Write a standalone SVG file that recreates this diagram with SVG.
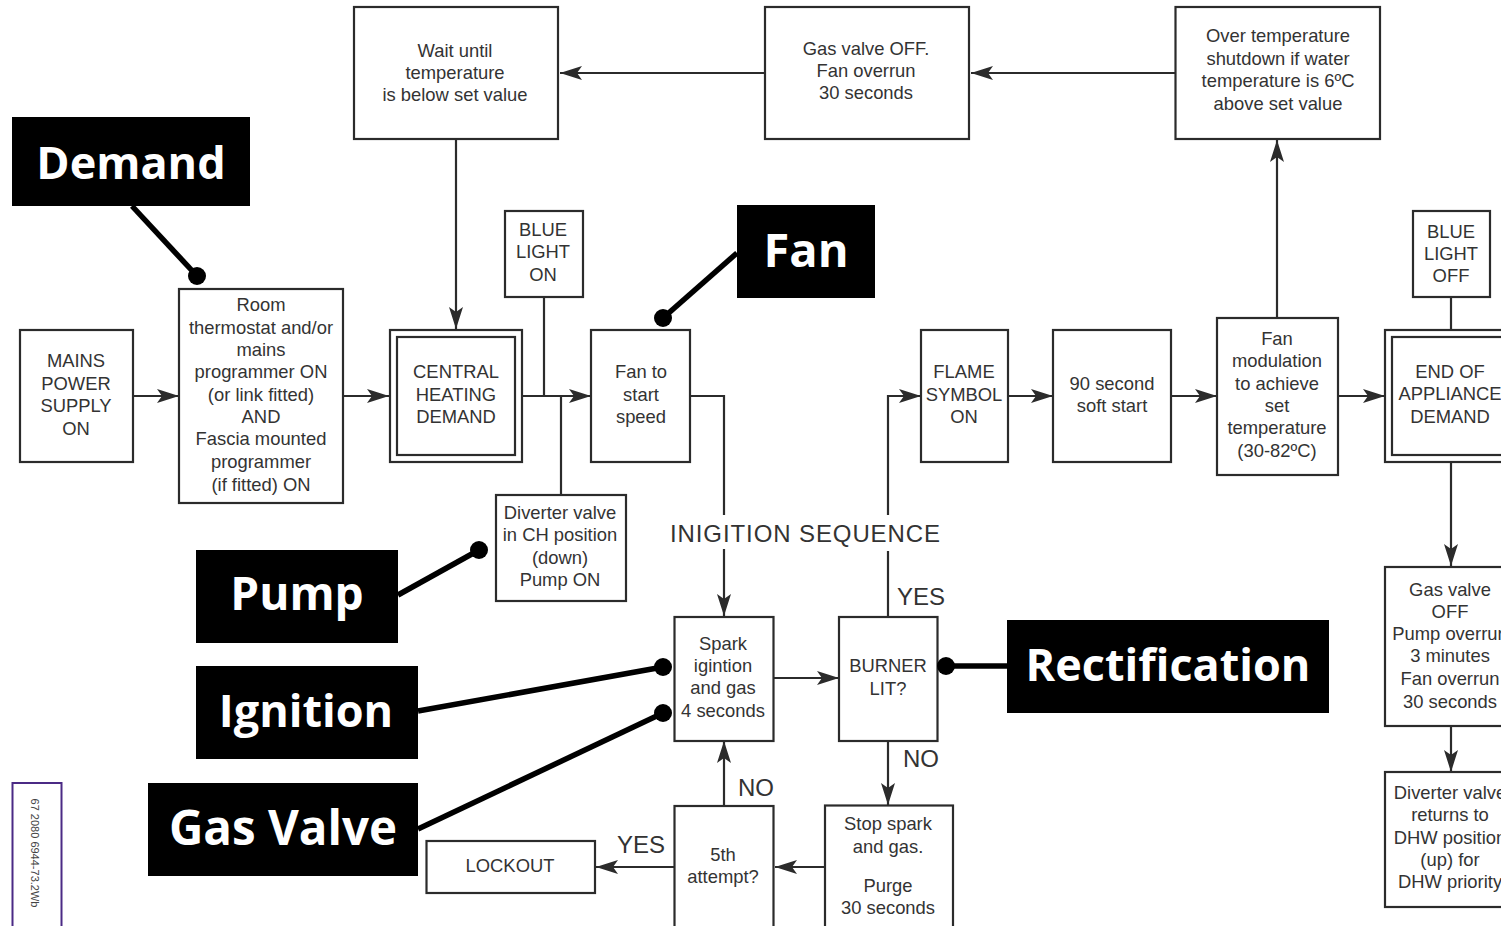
<svg xmlns="http://www.w3.org/2000/svg" width="1501" height="926" viewBox="0 0 1501 926">
<style>
.b{fill:#fff;stroke:#2b2b2b;stroke-width:2.2}
.t{font-family:"Liberation Sans",Arial,sans-serif;font-size:18.4px;fill:#333;text-anchor:middle}
.lg{font-family:"Liberation Sans",Arial,sans-serif;font-size:24px;fill:#333}
.c{fill:none;stroke:#2b2b2b;stroke-width:2.2}
.tag{fill:#000}
.tt{font-family:"Open Sans","Noto Sans",sans-serif;font-weight:700;fill:#fff;text-anchor:middle;font-size:45px}
.p{stroke:#000;stroke-width:5.5;fill:none}
</style>
<defs><marker id="a" markerUnits="userSpaceOnUse" markerWidth="24" markerHeight="18" refX="22" refY="9" orient="auto"><path d="M0 2L22 9L0 16L5 9Z" fill="#2b2b2b"/></marker></defs>
<rect width="1501" height="926" fill="#fff"/>
<g id="connectors" class="c">
<path d="M133 396H179" marker-end="url(#a)"/>
<path d="M343 396H389" marker-end="url(#a)"/>
<path d="M522 396H591" marker-end="url(#a)"/>
<path d="M544 297V396"/>
<path d="M561 396V495"/>
<path d="M456 139V329" marker-end="url(#a)"/>
<path d="M765 73H560" marker-end="url(#a)"/>
<path d="M1176 73H971" marker-end="url(#a)"/>
<path d="M1277 317V140" marker-end="url(#a)"/>
<path d="M690 396H724V515M724 549V616" marker-end="url(#a)"/>
<path d="M888 617V551M888 515V396H921" marker-end="url(#a)"/>
<path d="M1008 396H1053" marker-end="url(#a)"/>
<path d="M1170 396H1217" marker-end="url(#a)"/>
<path d="M1338 396H1385" marker-end="url(#a)"/>
<path d="M1451 297V330"/>
<path d="M1451 462V566" marker-end="url(#a)"/>
<path d="M1451 726V772" marker-end="url(#a)"/>
<path d="M774 678H839" marker-end="url(#a)"/>
<path d="M888 741V805" marker-end="url(#a)"/>
<path d="M825 867H775" marker-end="url(#a)"/>
<path d="M724 806V741" marker-end="url(#a)"/>
<path d="M674 867H596" marker-end="url(#a)"/>
</g>
<g id="n-wait"><rect class="b" x="354" y="7" width="204" height="132"/><text class="t" x="455" y="57">Wait until</text><text class="t" x="455" y="79">temperature</text><text class="t" x="455" y="101">is below set value</text></g>
<g id="n-gasoff"><rect class="b" x="765" y="7" width="204" height="132"/><text class="t" x="866" y="55">Gas valve OFF.</text><text class="t" x="866" y="77">Fan overrun</text><text class="t" x="866" y="99">30 seconds</text></g>
<g id="n-over"><rect class="b" x="1175.500" y="7" width="204.500" height="132"/><text class="t" x="1278" y="42">Over temperature</text><text class="t" x="1278" y="65">shutdown if water</text><text class="t" x="1278" y="87">temperature is 6ºC</text><text class="t" x="1278" y="110">above set value</text></g>
<g id="n-mains"><rect class="b" x="20" y="330" width="113" height="132"/><text class="t" x="76" y="367">MAINS</text><text class="t" x="76" y="390">POWER</text><text class="t" x="76" y="412">SUPPLY</text><text class="t" x="76" y="435">ON</text></g>
<g id="n-room"><rect class="b" x="179" y="289" width="164" height="214"/><text class="t" x="261" y="311">Room</text><text class="t" x="261" y="334">thermostat and/or</text><text class="t" x="261" y="356">mains</text><text class="t" x="261" y="378">programmer ON</text><text class="t" x="261" y="401">(or link fitted)</text><text class="t" x="261" y="423">AND</text><text class="t" x="261" y="445">Fascia mounted</text><text class="t" x="261" y="468">programmer</text><text class="t" x="261" y="491">(if fitted) ON</text></g>
<g id="n-ch"><rect class="b" x="390" y="330" width="132" height="132"/><rect class="b" x="397" y="337" width="118" height="118"/><text class="t" x="456" y="378">CENTRAL</text><text class="t" x="456" y="401">HEATING</text><text class="t" x="456" y="423">DEMAND</text></g>
<g id="n-blueon"><rect class="b" x="505" y="211" width="78" height="86"/><text class="t" x="543" y="236">BLUE</text><text class="t" x="543" y="258">LIGHT</text><text class="t" x="543" y="281">ON</text></g>
<g id="n-fan"><rect class="b" x="591" y="330" width="99" height="132"/><text class="t" x="641" y="378">Fan to</text><text class="t" x="641" y="401">start</text><text class="t" x="641" y="423">speed</text></g>
<g id="n-div"><rect class="b" x="496" y="495" width="130" height="106"/><text class="t" x="560" y="519">Diverter valve</text><text class="t" x="560" y="541">in CH position</text><text class="t" x="560" y="564">(down)</text><text class="t" x="560" y="586">Pump ON</text></g>
<g id="n-flame"><rect class="b" x="921" y="330" width="87" height="132"/><text class="t" x="964" y="378">FLAME</text><text class="t" x="964" y="401">SYMBOL</text><text class="t" x="964" y="423">ON</text></g>
<g id="n-soft"><rect class="b" x="1053" y="330" width="118" height="132"/><text class="t" x="1112" y="390">90 second</text><text class="t" x="1112" y="412">soft start</text></g>
<g id="n-mod"><rect class="b" x="1217" y="318" width="121" height="157"/><text class="t" x="1277" y="345">Fan</text><text class="t" x="1277" y="367">modulation</text><text class="t" x="1277" y="390">to achieve</text><text class="t" x="1277" y="412">set</text><text class="t" x="1277" y="434">temperature</text><text class="t" x="1277" y="457">(30-82ºC)</text></g>
<g id="n-blueoff"><rect class="b" x="1413" y="211" width="77" height="86"/><text class="t" x="1451" y="238">BLUE</text><text class="t" x="1451" y="260">LIGHT</text><text class="t" x="1451" y="282">OFF</text></g>
<g id="n-end"><rect class="b" x="1385" y="330" width="132" height="132"/><rect class="b" x="1392" y="337" width="118" height="118"/><text class="t" x="1450" y="378">END OF</text><text class="t" x="1450" y="400">APPLIANCE</text><text class="t" x="1450" y="423">DEMAND</text></g>
<g id="n-gasoff2"><rect class="b" x="1385" y="567" width="132" height="159"/><text class="t" x="1450" y="596">Gas valve</text><text class="t" x="1450" y="618">OFF</text><text class="t" x="1450" y="640">Pump overrun</text><text class="t" x="1450" y="662">3 minutes</text><text class="t" x="1450" y="685">Fan overrun</text><text class="t" x="1450" y="708">30 seconds</text></g>
<g id="n-divret"><rect class="b" x="1385" y="772" width="132" height="135"/><text class="t" x="1450" y="799">Diverter valve</text><text class="t" x="1450" y="821">returns to</text><text class="t" x="1450" y="844">DHW position</text><text class="t" x="1450" y="866">(up) for</text><text class="t" x="1450" y="888">DHW priority</text></g>
<g id="n-spark"><rect class="b" x="674.500" y="617" width="99" height="124"/><text class="t" x="723" y="650">Spark</text><text class="t" x="723" y="672">igintion</text><text class="t" x="723" y="694">and gas</text><text class="t" x="723" y="717">4 seconds</text></g>
<g id="n-burner"><rect class="b" x="839" y="617" width="98.500" height="124"/><text class="t" x="888" y="672">BURNER</text><text class="t" x="888" y="695">LIT?</text></g>
<g id="n-stop"><rect class="b" x="825" y="805.500" width="128" height="130"/><text class="t" x="888" y="830">Stop spark</text><text class="t" x="888" y="853">and gas.</text><text class="t" x="888" y="892">Purge</text><text class="t" x="888" y="914">30 seconds</text></g>
<g id="n-5th"><rect class="b" x="674.500" y="806" width="99" height="130"/><text class="t" x="723" y="861">5th</text><text class="t" x="723" y="883">attempt?</text></g>
<g id="n-lock"><rect class="b" x="426.500" y="841" width="168.500" height="52"/><text class="t" x="510" y="872">LOCKOUT</text></g>
<g id="labels">
<text class="lg" x="670" y="542" letter-spacing="0.9">INIGITION SEQUENCE</text>
<text class="lg" x="897" y="605">YES</text>
<text class="lg" x="903" y="767">NO</text>
<text class="lg" x="738" y="796">NO</text>
<text class="lg" x="617" y="853">YES</text>
</g>
<g id="n-code"><rect x="12.500" y="783" width="49" height="150" fill="#fff" stroke="#4b2a85" stroke-width="2"/><text transform="translate(31,853) rotate(90)" font-family="Liberation Sans,sans-serif" font-size="11" fill="#444" text-anchor="middle">67 2080 6944-73.2Wb</text></g>
<g id="callouts">
<path class="p" d="M132 206L197 276"/><circle cx="197" cy="276" r="9"/>
<path class="p" d="M737 253L663 318"/><circle cx="663" cy="318" r="9"/>
<path class="p" d="M398 595L479 550"/><circle cx="479" cy="550" r="9"/>
<path class="p" d="M418 711L663 667"/><circle cx="663" cy="667" r="9"/>
<path class="p" d="M418 829L663 713"/><circle cx="663" cy="713" r="9"/>
<path class="p" d="M1007 666H946"/><circle cx="946" cy="666" r="9"/>
</g>
<g id="t-demand"><rect class="tag" x="12" y="117" width="238" height="89"/><text class="tt" x="131" y="179">Demand</text></g>
<g id="t-fan"><rect class="tag" x="737" y="205" width="138" height="93"/><text class="tt" x="806" y="267" style="font-size:47px">Fan</text></g>
<g id="t-pump"><rect class="tag" x="196" y="550" width="202" height="93"/><text class="tt" x="297" y="610" style="font-size:46px">Pump</text></g>
<g id="t-ignition"><rect class="tag" x="196" y="666" width="222" height="93"/><text class="tt" x="306" y="727">Ignition</text></g>
<g id="t-gas"><rect class="tag" x="148" y="783" width="270" height="93"/><text class="tt" x="283" y="845" style="font-size:47.500px">Gas Valve</text></g>
<g id="t-rect"><rect class="tag" x="1007" y="620" width="322" height="93"/><text class="tt" x="1168" y="681">Rectification</text></g>
</svg>
